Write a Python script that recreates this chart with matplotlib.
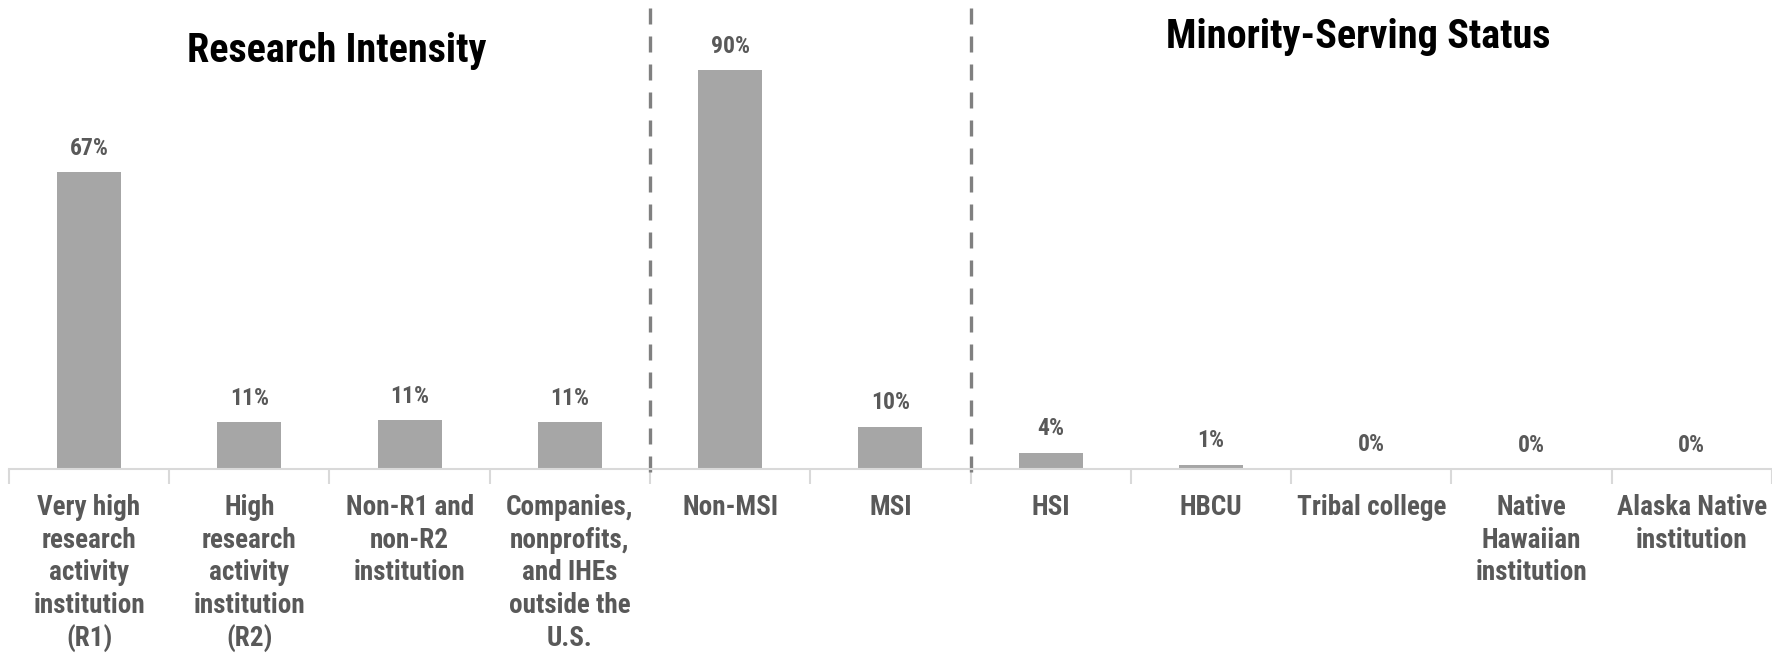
import matplotlib
matplotlib.use("Agg")
from matplotlib import pyplot as plt
import numpy as np

plt.rcParams['font.family'] = ['Roboto Condensed', 'DejaVu Sans']

categories = [
    "Very high\nresearch\nactivity\ninstitution\n(R1)",
    "High\nresearch\nactivity\ninstitution\n(R2)",
    "Non-R1 and\nnon-R2\ninstitution",
    "Companies,\nnonprofits,\nand IHEs\noutside the\nU.S.",
    "Non-MSI",
    "MSI",
    "HSI",
    "HBCU",
    "Tribal college",
    "Native\nHawaiian\ninstitution",
    "Alaska Native\ninstitution",
]
values = [67.1, 10.6, 11.1, 10.6, 90.2, 9.6, 3.7, 1.0, 0.1, 0.0, 0.0]
value_labels = ["67%", "11%", "11%", "11%", "90%", "10%", "4%", "1%", "0%", "0%", "0%"]
group_breaks = [3.5, 5.5]
group_titles = ["Research Intensity", "Minority-Serving Status"]

bar_color = "#A6A6A6"
text_color = "#595959"

fig = plt.figure(figsize=(17.72, 6.58), dpi=100)
ax = fig.add_axes([0.005, 0.287, 0.995, 0.672])

x = np.arange(len(categories))
ax.bar(x, values, width=0.4, color=bar_color)

for xi, v, lab in zip(x, values, value_labels):
    ax.annotate(lab, (xi, v), xytext=(0, 9), textcoords="offset points",
                ha="center", va="bottom", fontsize=17, fontweight="bold",
                color=text_color)

# dashed separators between the groups (drawn top-down so a dash starts at the top)
for b in group_breaks:
    ax.plot([b, b], [104.3, -2.5], color="#808080", lw=2.4,
            linestyle=(0, (4.8, 3.6)), solid_capstyle="butt",
            dash_capstyle="butt", clip_on=False)

ax.set_xlim(-0.5, len(categories) - 0.5)
ax.set_ylim(0, 100)
ax.set_xticks(x)
ax.set_xticklabels(categories, fontsize=19.5, fontweight="bold", color=text_color,
                   linespacing=1.27)
ax.tick_params(axis="x", which="major", length=0, pad=18)
ax.set_xticks(np.arange(len(categories) + 1) - 0.5, minor=True)
ax.tick_params(axis="x", which="minor", length=11, color="#D9D9D9", width=1.5)
ax.set_yticks([])
for side in ["top", "left", "right"]:
    ax.spines[side].set_visible(False)
ax.spines["bottom"].set_color("#D9D9D9")
ax.spines["bottom"].set_linewidth(1.5)

fig.text(337 / 1772, 1 - 51 / 658, group_titles[0], ha="center", va="center",
         fontsize=29, fontweight="bold", color="black")
fig.text(1358 / 1772, 1 - 37 / 658, group_titles[1], ha="center", va="center",
         fontsize=29, fontweight="bold", color="black")

fig.savefig("out.png", dpi=100)
